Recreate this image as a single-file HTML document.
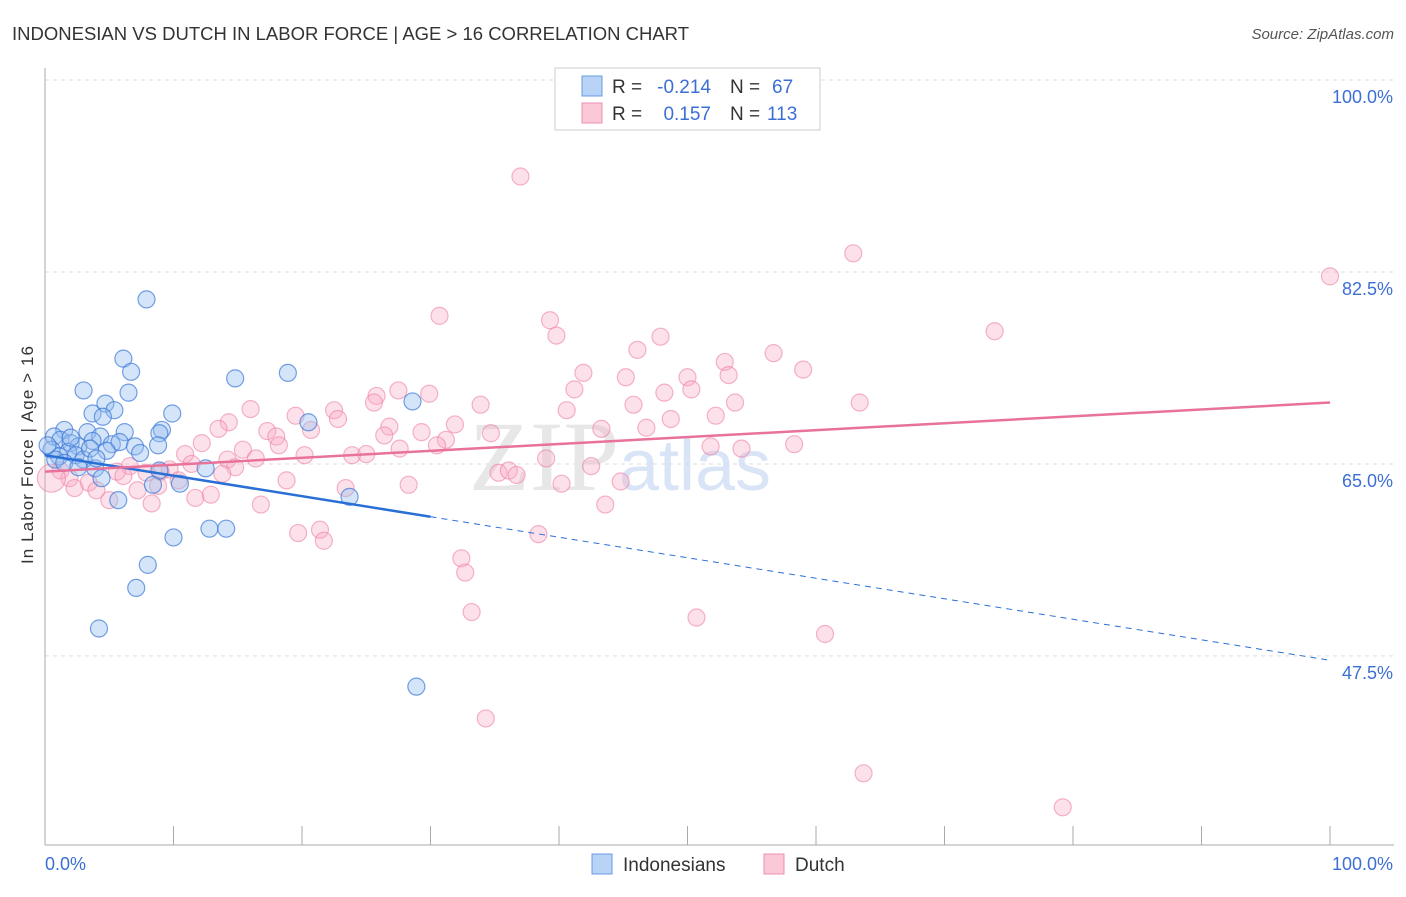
<!DOCTYPE html><html><head><meta charset="utf-8"><style>
body{margin:0;background:#fff;font-family:"Liberation Sans",sans-serif}
</style></head><body>
<svg id="c" width="1406" height="892" xmlns="http://www.w3.org/2000/svg">
<text x="12" y="40" font-size="18" fill="#333" textLength="677" lengthAdjust="spacingAndGlyphs">INDONESIAN VS DUTCH IN LABOR FORCE | AGE &gt; 16 CORRELATION CHART</text>
<text x="1394" y="39" font-size="15" fill="#555" text-anchor="end" font-style="italic">Source: ZipAtlas.com</text>
<g id="grid"></g>
<text x="620" y="490" font-size="100" fill="#e3e3e3" font-family="Liberation Serif,serif" text-anchor="middle" opacity="0.85">ZIP<tspan fill="#d3e1f5" font-family="Liberation Sans,sans-serif" font-size="72">atlas</tspan></text>
<g id="pts"></g>
<g id="lines"></g>
<text x="33" y="455" font-size="17" fill="#333" transform="rotate(-90 33 455)" text-anchor="middle" textLength="218">In Labor Force | Age &gt; 16</text>
<g>
<rect x="555" y="68" width="265" height="62" fill="#fff" stroke="#ccc"/>
<rect x="582" y="76" width="20" height="20" fill="#b8d3f5" stroke="#6a9be0"/>
<rect x="582" y="103" width="20" height="20" fill="#fbc8d8" stroke="#ec8fad"/>
<text x="612" y="93" font-size="19" fill="#333">R =</text>
<text x="711" y="93" font-size="19" fill="#3b6fd4" text-anchor="end">-0.214</text>
<text x="730" y="93" font-size="19" fill="#333">N =</text>
<text x="772" y="93" font-size="19" fill="#3b6fd4">67</text>
<text x="612" y="120" font-size="19" fill="#333">R =</text>
<text x="711" y="120" font-size="19" fill="#3b6fd4" text-anchor="end">0.157</text>
<text x="730" y="120" font-size="19" fill="#333">N =</text>
<text x="767" y="120" font-size="19" fill="#3b6fd4">113</text>
</g>
<g>
<rect x="592" y="854" width="20" height="20" fill="#b8d3f5" stroke="#6a9be0"/>
<text x="623" y="871" font-size="19" fill="#333">Indonesians</text>
<rect x="764" y="854" width="20" height="20" fill="#fbc8d8" stroke="#ec8fad"/>
<text x="795" y="871" font-size="19" fill="#333">Dutch</text>
</g>
</svg>
<script>
const xTicks=[0,100];
const yTicks=[100,82.5,65,47.5];
const blueX=[7.9,6.1,6.7,3.0,6.5,14.8,18.9,4.7,3.7,5.4,4.5,9.9,20.5,28.6,9.1,8.9,1.5,3.3,6.2,4.3,0.7,1.2,2.0,3.7,5.2,5.8,7.0,8.8,2.6,0.5,4.8,7.4,1.8,1.1,2.4,0.8,3.0,1.5,2.6,3.9,12.5,8.9,4.4,10.5,8.4,5.7,23.7,10.0,12.8,14.1,8.0,7.1,4.2,28.9,2.0,3.5,4.0,0.2];
const blueY=[80.0,74.6,73.4,71.7,71.5,72.8,73.3,70.5,69.6,69.9,69.3,69.6,68.8,70.7,68.1,67.8,68.1,67.9,67.9,67.5,67.5,67.2,66.9,67.1,66.8,67.0,66.6,66.7,66.6,66.3,66.2,66.0,66.1,65.7,65.8,65.4,65.4,65.1,64.7,64.6,64.6,64.4,63.7,63.2,63.1,61.7,62.0,58.3,59.1,59.1,55.8,53.7,50.0,44.7,67.4,66.4,65.5,66.7];
const pinkX=[37.0,62.9,100,30.7,39.3,39.8,73.9,47.9,46.1,56.7,52.9,41.9,45.2,50.0,53.2,59.0,41.2,48.2,50.3,27.5,29.9,25.8,25.6,33.9,45.8,53.7,63.4,16.0,22.5,40.6,19.5,52.2,48.7,22.8,14.3,31.9,20.7,13.5,43.3,17.3,46.8,26.8,29.3,34.7,26.4,18.0,31.2,30.5,12.2,18.2,27.6,51.8,54.2,58.3,15.4,10.9,20.2,23.9,25.0,39.0,14.2,16.4,11.4,14.8,42.5,6.6,9.7,5.6,9.0,7.9,13.8,35.3,36.1,36.7,1.2,1.9,3.4,6.1,18.8,10.4,44.8,2.3,4.0,7.2,8.8,23.4,28.3,40.2,5.0,11.7,12.9,8.3,16.8,43.6,19.7,21.4,21.7,38.4,32.4,32.7,33.2,50.7,60.7,34.3,63.7,79.2,0.5];
const pinkY=[91.2,84.2,82.1,78.5,78.1,76.7,77.1,76.6,75.4,75.1,74.3,73.3,72.9,72.9,73.1,73.6,71.8,71.5,71.8,71.7,71.4,71.2,70.6,70.4,70.4,70.6,70.6,70.0,69.9,69.9,69.4,69.4,69.1,69.1,68.8,68.6,68.1,68.2,68.2,68.0,68.3,68.4,67.9,67.8,67.6,67.5,67.2,66.7,66.9,66.7,66.4,66.6,66.4,66.8,66.3,65.9,65.8,65.8,65.9,65.5,65.4,65.5,65.0,64.7,64.8,64.8,64.5,64.3,64.3,64.2,64.1,64.2,64.4,64.0,64.4,63.7,63.3,63.9,63.5,63.5,63.4,62.8,62.6,62.6,63.0,62.8,63.1,63.2,61.7,61.9,62.2,61.4,61.3,61.3,58.7,59.0,58.0,58.6,56.4,55.1,51.5,51.0,49.5,41.8,36.8,33.7,63.7];
const blueTrend=[65.8,-0.187];
const pinkTrend=[64.3,0.063];
const X=v=>45+v*12.85, Y=v=>80+(100-v)*10.97;
const NS="http://www.w3.org/2000/svg";
function mk(t,a,p){const e=document.createElementNS(NS,t);for(const k in a)e.setAttribute(k,a[k]);p.appendChild(e);return e;}
const g=document.getElementById('grid');
yTicks.forEach(t=>{const l=mk('line',{x1:45,x2:1394,y1:Y(t),y2:Y(t),stroke:'#ddd','stroke-dasharray':'4,4'},g);


const tx=mk('text',{x:1393,y:Y(t)+23,'font-size':18,fill:'#3b6fd4','text-anchor':'end'},g);tx.textContent=t.toFixed(1)+'%';

});
mk('line',{x1:45,x2:45,y1:68,y2:845,stroke:'#aaa'},g);
mk('line',{x1:45,x2:1394,y1:845,y2:845,stroke:'#aaa'},g);
for(let i=0;i<=10;i++){const l=mk('line',{x1:X(i*10),x2:X(i*10),y1:826,y2:845,stroke:'#aaa'},g);

}
xTicks.forEach(t=>{const tx=mk('text',{x:t==0?45:X(t)+63,y:870,'font-size':18,fill:'#3b6fd4','text-anchor':t==0?'start':'end'},g);tx.textContent=t.toFixed(1)+'%';

});
const p=document.getElementById('pts');
pinkX.forEach((x,i)=>{const c=mk('circle',{cx:X(x),cy:Y(pinkY[i]),r:i==pinkX.length-1?14:8.5,fill:'rgba(248,170,196,0.35)',stroke:'rgba(236,130,165,0.6)','stroke-width':1.2},p);

});
blueX.forEach((x,i)=>{const c=mk('circle',{cx:X(x),cy:Y(blueY[i]),r:8.5,fill:'rgba(150,190,240,0.4)',stroke:'rgba(60,120,215,0.7)','stroke-width':1.2},p);

});
const L=document.getElementById('lines');
const bt=x=>blueTrend[0]+blueTrend[1]*x, pt=x=>pinkTrend[0]+pinkTrend[1]*x;
let l=mk('line',{x1:X(0),y1:Y(bt(0)),x2:X(30),y2:Y(bt(30)),stroke:'#2a6fd6','stroke-width':2.5},L);


l=mk('line',{x1:X(30),y1:Y(bt(30)),x2:X(100),y2:Y(bt(100)),stroke:'#2a6fd6','stroke-width':1,'stroke-dasharray':'6,5'},L);


l=mk('line',{x1:X(0),y1:Y(pt(0)),x2:X(100),y2:Y(pt(100)),stroke:'#e8729a','stroke-width':2.5},L);


</script>
</body></html>
